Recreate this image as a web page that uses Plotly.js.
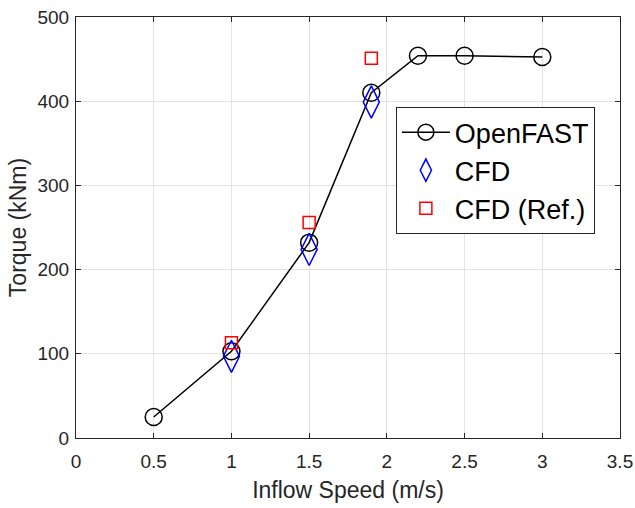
<!DOCTYPE html>
<html>
<head>
<meta charset="utf-8">
<script src="https://cdn.plot.ly/plotly-3.0.1.min.js"></script>
<style>html,body{margin:0;padding:0;background:#fff;}#chart{width:635px;height:508px;}</style>
</head>
<body>
<div id="chart"></div>
<script>
const openfastSpeed = [0.5, 1.0, 1.5, 1.9, 2.2, 2.5, 3.0];
const openfastTorque = [25, 103, 232, 410, 454, 454, 452.5];
const cfdSpeed = [1.0, 1.5, 1.9];
const cfdTorque = [97, 224, 399];
const cfdRefSpeed = [1.0, 1.5, 1.9];
const cfdRefTorque = [113, 256, 451];

const font = 'Liberation Sans, Arial, sans-serif';
const traces = [
  {x: openfastSpeed, y: openfastTorque, name: 'OpenFAST', mode: 'lines+markers',
   line: {color: '#000000', width: 1.5},
   marker: {symbol: 'circle-open', size: 17, color: '#000000', line: {width: 1.5}}},
  {x: cfdSpeed, y: cfdTorque, name: 'CFD', mode: 'markers',
   marker: {symbol: 'diamond-tall-open', size: 23, color: '#0000ff', line: {width: 1.5}}},
  {x: cfdRefSpeed, y: cfdRefTorque, name: 'CFD (Ref.)', mode: 'markers',
   marker: {symbol: 'square-open', size: 12, color: '#ff0000', line: {width: 1.5}}}
];
const axisCommon = {
  showgrid: true, gridcolor: '#e3e3e3', gridwidth: 1,
  showline: true, linecolor: '#262626', linewidth: 1, mirror: 'ticks',
  ticks: 'inside', ticklen: 5, tickcolor: '#262626',
  zeroline: false, tickfont: {family: font, size: 19, color: '#262626'}
};
const layout = {
  width: 635, height: 508,
  margin: {l: 76, r: 15, t: 17, b: 70},
  paper_bgcolor: '#ffffff', plot_bgcolor: '#ffffff',
  showlegend: true,
  xaxis: Object.assign({}, axisCommon, {range: [0, 3.5], dtick: 0.5, tick0: 0, ticklabelstandoff: 6,
    title: {text: 'Inflow Speed (m/s)', font: {family: font, size: 23, color: '#262626'}, standoff: 11}}),
  yaxis: Object.assign({}, axisCommon, {range: [0, 500], dtick: 100, tick0: 0, ticklabelstandoff: 2,
    title: {text: 'Torque (kNm)', font: {family: font, size: 23, color: '#262626'}, standoff: 4}}),
  legend: {x: 0.588, y: 0.786, xanchor: 'left', yanchor: 'top',
    bgcolor: '#ffffff', bordercolor: '#262626', borderwidth: 1, itemwidth: 48,
    font: {family: font, size: 27, color: '#000000'}}
};
Plotly.newPlot('chart', traces, layout, {displayModeBar: false, staticPlot: true});
</script>
</body>
</html>
